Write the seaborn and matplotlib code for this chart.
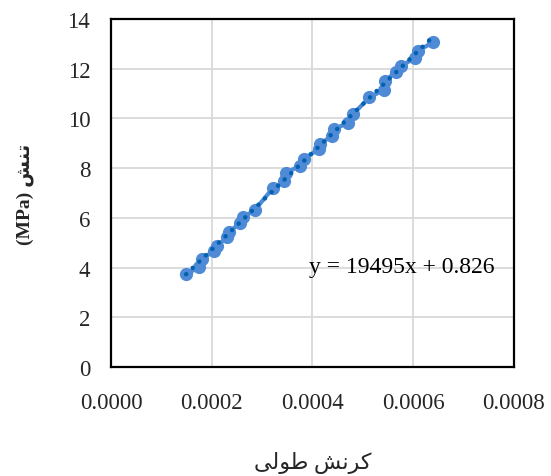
import numpy as np
import pandas as pd
import matplotlib
matplotlib.use("Agg")
import matplotlib.pyplot as plt
from matplotlib.ticker import MultipleLocator, FormatStrFormatter
import seaborn as sns

# Measured strain / stress pairs
strain = [0.000149, 0.0001747, 0.000180, 0.000205, 0.000210, 0.000231, 0.000235,
          0.000256, 0.000263, 0.000286, 0.000321, 0.000344, 0.000347, 0.000375,
          0.000383, 0.000412, 0.000415, 0.000439, 0.000443, 0.000470, 0.000481,
          0.000513, 0.000541, 0.000544, 0.000565, 0.000576, 0.000603, 0.000610,
          0.000639]
stress = [3.73, 4.01, 4.34, 4.68, 4.88, 5.22, 5.44, 5.79, 6.02, 6.33, 7.19, 7.47,
          7.80, 8.10, 8.37, 8.77, 8.97, 9.31, 9.57, 9.82, 10.18, 10.85, 11.14,
          11.52, 11.86, 12.12, 12.42, 12.73, 13.06]

# Linear fit coefficients
slope = 19495
intercept = 0.826

x_ticks = [0.0, 0.0002, 0.0004, 0.0006, 0.0008]
y_ticks = [0, 2, 4, 6, 8, 10, 12, 14]

# Persian labels written in shaped (presentation-form) glyphs, visual order
x_label = "\uFBFD\uFEDF\uFEEE\uFEC3 \uFEB6\uFEE7\uFEAE\uFEDB"      # کرنش طولی
y_label = "(MPa) \uFEB6\uFEE8\uFE97"                                # تنش (MPa)
eq_label = f"y = {slope}x + {intercept}"

sns.set_style("white")
plt.rcParams["font.family"] = ["Liberation Serif", "DejaVu Sans"]

df = pd.DataFrame({"strain": strain, "stress": stress})
fit_x = np.array([min(strain), max(strain)])
fit_df = pd.DataFrame({"strain": fit_x, "stress": slope * fit_x + intercept})

fig = plt.figure(figsize=(5.51, 4.77), dpi=100)
ax = fig.add_axes([0.2015, 0.2285, 0.7313, 0.7295])

sns.lineplot(data=df, x="strain", y="stress", sort=False, estimator=None,
             color="#4f8ad6", linewidth=3, marker="o", markersize=9.5,
             markeredgewidth=0, ax=ax, zorder=3)
sns.lineplot(data=fit_df, x="strain", y="stress", sort=False, estimator=None,
             color="#0062b0", linewidth=3.2, linestyle=(0, (0.05, 2.0)),
             dash_capstyle="round", ax=ax, zorder=4)

ax.set_xlim(0, 0.0008)
ax.set_ylim(0, 14)
ax.set_xticks(x_ticks)
ax.set_yticks(y_ticks)
ax.xaxis.set_major_formatter(FormatStrFormatter("%.4f"))
ax.xaxis.set_minor_locator(MultipleLocator(0.00004))
ax.yaxis.set_minor_locator(MultipleLocator(0.4))

ax.grid(True, which="major", color="#d9d9d9", linewidth=1.3, zorder=0)
ax.set_axisbelow(True)
for s in ax.spines.values():
    s.set_visible(True)
    s.set_color("black")
    s.set_linewidth(1.6)

ax.tick_params(axis="both", which="major", direction="inout", length=8,
               width=1.4, color="black", labelsize=16.5)
ax.tick_params(axis="x", which="major", pad=14)
ax.tick_params(axis="y", which="major", pad=11)
ax.tick_params(axis="both", which="minor", direction="in", length=4,
               width=1.2, color="black")
ax.tick_params(top=False, right=False, which="both")

ax.set_xlabel(x_label, fontsize=16, labelpad=27)
ax.set_ylabel(y_label, fontsize=14, fontweight="bold", labelpad=24)

ax.text(0.000578, 4.06, eq_label, fontsize=17, ha="center", va="center",
        color="black", zorder=5)

fig.savefig("out.png", dpi=100)
